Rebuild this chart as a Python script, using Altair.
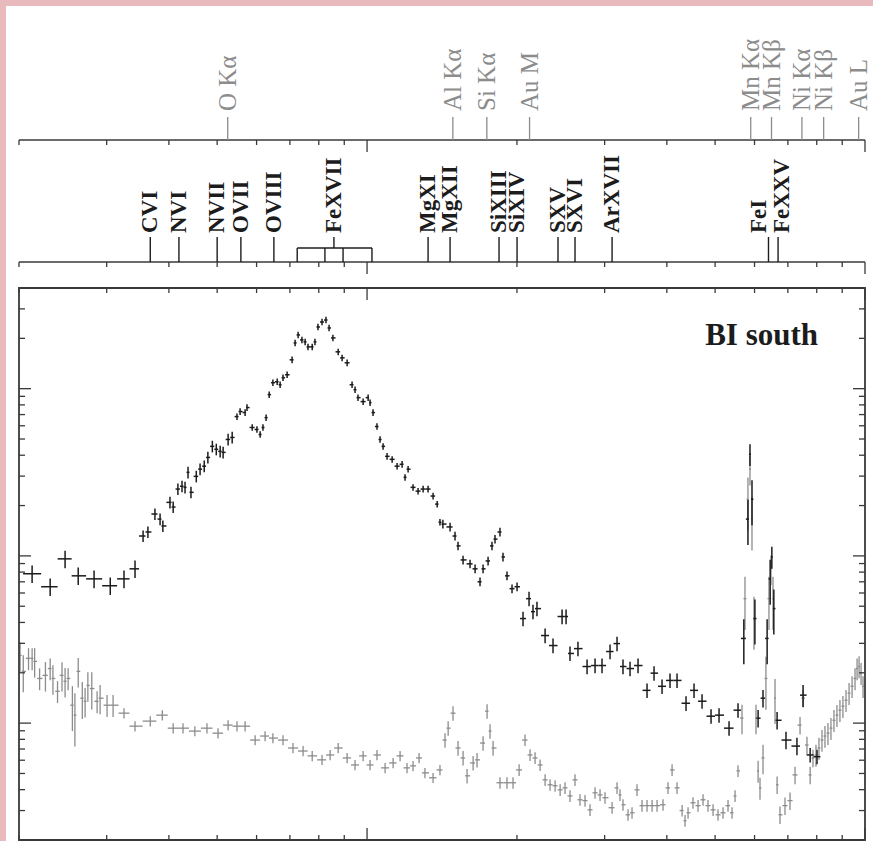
import altair as alt
import numpy as np
import pandas as pd

# ---------------- data ----------------
# source spectrum (black crosses): energy [keV], counts, relative error
src_E = [0.2125, 0.231, 0.2475, 0.263, 0.283, 0.305, 0.325, 0.342,
         0.355, 0.363, 0.375, 0.384, 0.389, 0.402, 0.408, 0.417, 0.425, 0.431,
         0.437, 0.443, 0.454, 0.462, 0.471, 0.479, 0.489, 0.498, 0.507, 0.514,
         0.526, 0.536,
         0.548, 0.556, 0.569, 0.574, 0.588, 0.601, 0.610, 0.618, 0.627, 0.636,
         0.647, 0.660, 0.669, 0.678, 0.691, 0.707, 0.717, 0.727, 0.740, 0.751,
         0.761, 0.776, 0.786, 0.797, 0.812, 0.827, 0.839, 0.854, 0.875, 0.891,
         0.912, 0.933, 0.946, 0.959, 0.982, 1.005, 1.014, 1.028, 1.047, 1.062,
         1.077, 1.097, 1.123, 1.149, 1.176, 1.192, 1.209, 1.237, 1.266, 1.296,
         1.326, 1.357, 1.383, 1.401, 1.420, 1.468, 1.502, 1.523, 1.559, 1.610,
         1.648, 1.686, 1.710, 1.750, 1.782, 1.807, 1.849, 1.875, 1.910, 1.955,
         2.001, 2.057, 2.115, 2.154, 2.194, 2.278, 2.363, 2.464, 2.510, 2.556,
         2.652, 2.766, 2.870, 2.964, 3.076, 3.177, 3.266, 3.374, 3.501, 3.650,
         3.770, 3.912, 4.059, 4.193, 4.371, 4.536, 4.707, 4.907, 5.092, 5.333,
         5.559, 5.71, 5.82, 5.875, 5.93, 6.01, 6.10, 6.24, 6.36, 6.45,
         6.50, 6.56, 6.66, 6.94, 7.30, 7.51, 7.76, 8.01]
src_V = [0.0782, 0.0654, 0.096, 0.076, 0.0729, 0.0663, 0.0729, 0.0837,
         0.1315, 0.139, 0.178, 0.166, 0.151, 0.209, 0.196, 0.251, 0.261, 0.257,
         0.316, 0.240, 0.299, 0.330, 0.344, 0.388, 0.452, 0.434, 0.422, 0.416,
         0.497, 0.511,
         0.681, 0.730, 0.720, 0.771, 0.586, 0.570, 0.532, 0.586, 0.671, 0.921,
         1.086, 1.10, 1.056, 1.163, 1.211, 1.488, 1.878, 2.096, 1.957, 1.905,
         1.778, 1.778, 1.905, 2.339, 2.505, 2.574, 2.307, 2.012, 1.661, 1.529,
         1.428, 1.056, 0.986, 0.884, 0.837, 0.884, 0.825, 0.720, 0.594, 0.497,
         0.452, 0.394, 0.378, 0.344, 0.353, 0.295, 0.330, 0.257, 0.244, 0.251,
         0.251, 0.228, 0.204, 0.159, 0.155, 0.149, 0.1315, 0.1148, 0.0946, 0.0896,
         0.0837, 0.070, 0.0837, 0.0933, 0.1148, 0.126, 0.139, 0.0986, 0.076, 0.0637,
         0.0654, 0.0422, 0.0555, 0.0464, 0.0484, 0.0334, 0.0291, 0.0434, 0.0434, 0.0261,
         0.0279, 0.0218, 0.0221, 0.0221, 0.0268, 0.0299, 0.0218, 0.0212, 0.0221, 0.0157,
         0.0199, 0.0166, 0.0180, 0.0180, 0.01315, 0.0157, 0.01352, 0.0110, 0.01116, 0.00933,
         0.01195, 0.0321, 0.166, 0.405, 0.218, 0.0422, 0.0107, 0.0141, 0.0321, 0.0729,
         0.0986, 0.0484, 0.0104, 0.00792, 0.00729, 0.0147, 0.00645, 0.0063]
src_err = [0.12, 0.12, 0.12, 0.12, 0.12, 0.12, 0.12, 0.12,
           0.08, 0.08, 0.08, 0.08, 0.08, 0.08, 0.08, 0.08, 0.08, 0.08, 0.08,
           0.08, 0.08, 0.08, 0.08, 0.08, 0.08, 0.08, 0.08, 0.08, 0.08, 0.08,
           0.045, 0.045, 0.045, 0.045, 0.045, 0.045, 0.045, 0.045, 0.045, 0.045,
           0.045, 0.045, 0.045, 0.045, 0.045, 0.045, 0.045, 0.045, 0.045, 0.045,
           0.045, 0.045, 0.045, 0.045, 0.045, 0.045, 0.045, 0.045, 0.045, 0.045,
           0.045, 0.045, 0.045, 0.045, 0.045, 0.045, 0.045, 0.045, 0.045, 0.045,
           0.045, 0.045, 0.045, 0.045, 0.045, 0.045, 0.045, 0.045, 0.045, 0.045,
           0.045, 0.045, 0.045, 0.045,
           0.06, 0.06, 0.06, 0.06, 0.06, 0.06, 0.06, 0.06, 0.06, 0.06,
           0.06, 0.06, 0.06, 0.06, 0.06, 0.06, 0.06,
           0.10, 0.10, 0.10, 0.10, 0.10, 0.10, 0.10, 0.10, 0.10, 0.10,
           0.10, 0.10, 0.10, 0.10, 0.10, 0.10, 0.10, 0.10, 0.10, 0.10,
           0.10, 0.10, 0.10, 0.10, 0.10, 0.10, 0.10, 0.10, 0.10, 0.10,
           0.3, 0.3, 0.15, 0.3, 0.3, 0.12, 0.12, 0.3, 0.3, 0.15,
           0.3, 0.12, 0.12, 0.12, 0.15, 0.1, 0.1]

# background spectrum (gray crosses)
bgd_E = [0.201, 0.204, 0.209, 0.2125, 0.215, 0.220, 0.226, 0.231, 0.234, 0.239,
         0.244, 0.2475, 0.251, 0.256, 0.259, 0.263, 0.268, 0.2715, 0.275, 0.280,
         0.287, 0.291, 0.3005, 0.309, 0.325, 0.342, 0.367, 0.388, 0.408, 0.427,
         0.451, 0.477, 0.502, 0.526, 0.548, 0.569, 0.596, 0.624, 0.647, 0.678,
         0.710, 0.744, 0.776, 0.812, 0.843, 0.875, 0.912, 0.946, 0.982, 1.014,
         1.047, 1.087, 1.128, 1.165, 1.203, 1.237, 1.272, 1.307, 1.357, 1.401,
         1.434, 1.455, 1.488, 1.523, 1.559, 1.588, 1.633, 1.663, 1.710, 1.742,
         1.766, 1.791, 1.849, 1.910, 1.964, 2.020, 2.076, 2.125, 2.175, 2.226,
         2.278, 2.331, 2.386, 2.442, 2.498, 2.556, 2.616, 2.677, 2.740, 2.804,
         2.870, 2.937, 3.005, 3.105, 3.177, 3.221, 3.266, 3.343, 3.405, 3.485,
         3.566, 3.650, 3.736, 3.823, 3.930, 4.022, 4.098, 4.193, 4.292, 4.351,
         4.412, 4.514, 4.620, 4.729, 4.839, 4.953, 5.068, 5.187, 5.308, 5.407,
         5.483, 5.559, 5.662, 5.741, 5.82, 5.875, 5.93, 5.985, 6.041, 6.10,
         6.154, 6.24, 6.325, 6.414, 6.474, 6.535, 6.596, 6.66, 6.750, 6.908,
         7.07, 7.236, 7.405, 7.51, 7.646, 7.76, 7.862, 7.972, 8.083, 8.196,
         8.31, 8.426, 8.544, 8.663, 8.784, 8.906, 9.03, 9.16, 9.29, 9.42,
         9.55, 9.64, 9.73, 9.82, 9.91]
bgd_V = [0.0254, 0.0204, 0.0244, 0.0244, 0.0234, 0.0185, 0.0193, 0.0212, 0.0185, 0.0155,
         0.0193, 0.0178, 0.0185, 0.0128, 0.01116, 0.0204, 0.0141, 0.0135, 0.0168, 0.0161,
         0.0135, 0.0141, 0.0128, 0.0128, 0.01147, 0.00959, 0.01028, 0.01116, 0.00933, 0.00933,
         0.00896, 0.00933, 0.00871, 0.00973, 0.00959, 0.00959, 0.00792, 0.00837, 0.00814, 0.00792,
         0.0071, 0.00681, 0.00637, 0.00603, 0.00645, 0.0071, 0.00619, 0.00562, 0.00637, 0.00562,
         0.00645, 0.0054, 0.00578, 0.00637, 0.0054, 0.00555, 0.00619, 0.00504, 0.00471, 0.00525,
         0.00792, 0.00933, 0.01147, 0.0071, 0.00619, 0.00484, 0.00578, 0.00603, 0.0076, 0.01178,
         0.00896, 0.0071, 0.0044, 0.0044, 0.0044, 0.00525, 0.00792, 0.00645, 0.00619, 0.00562,
         0.00458, 0.00428, 0.00422, 0.00399, 0.0041, 0.00367, 0.00458, 0.00348, 0.00344, 0.00303,
         0.00383, 0.00372, 0.00358, 0.00312, 0.0041, 0.00372, 0.00325, 0.00283, 0.00291, 0.00399,
         0.00321, 0.00321, 0.00321, 0.00321, 0.00325, 0.0041, 0.00525, 0.0041, 0.00300, 0.00261,
         0.00291, 0.00334, 0.00321, 0.00348, 0.00321, 0.00303, 0.00283, 0.00291, 0.00321, 0.00291,
         0.00367, 0.00518, 0.01072, 0.0555, 0.218, 0.330, 0.166, 0.0422, 0.01072, 0.00518,
         0.0041, 0.00619, 0.0185, 0.0555, 0.0837, 0.0555, 0.0141, 0.00428, 0.00283, 0.00321,
         0.00344, 0.0049, 0.00973, 0.0141, 0.0074, 0.0049, 0.00619, 0.00645, 0.0071, 0.00792,
         0.00837, 0.00871, 0.00933, 0.0104, 0.01116, 0.01195, 0.01262, 0.01371, 0.0151, 0.0166,
         0.0185, 0.0212, 0.0218, 0.0199, 0.0166]
bgd_err = [0.2, 0.25, 0.15, 0.15, 0.2, 0.15, 0.2, 0.15, 0.2, 0.15,
           0.2, 0.2, 0.15, 0.3, 0.35, 0.2, 0.25, 0.2, 0.2, 0.25,
           0.15, 0.2, 0.15, 0.15,
           0.07, 0.07, 0.07, 0.07, 0.07, 0.07, 0.07, 0.07, 0.07, 0.07,
           0.07, 0.07, 0.07, 0.07, 0.07, 0.07, 0.07, 0.07, 0.07, 0.07,
           0.07, 0.07, 0.07, 0.07, 0.07, 0.07, 0.07, 0.07, 0.07, 0.07,
           0.07, 0.07, 0.07, 0.07, 0.07, 0.07,
           0.1, 0.1, 0.1, 0.1, 0.1, 0.1, 0.1, 0.1, 0.1, 0.1, 0.1, 0.1,
           0.08, 0.08, 0.08, 0.08, 0.08, 0.08, 0.08, 0.08, 0.08, 0.08,
           0.08, 0.08, 0.08, 0.08, 0.08, 0.08, 0.08, 0.08, 0.08, 0.08,
           0.08, 0.08, 0.08, 0.08, 0.08, 0.08, 0.08, 0.08, 0.08, 0.08,
           0.08, 0.08, 0.08, 0.08, 0.08, 0.08, 0.08, 0.08, 0.08, 0.08,
           0.08, 0.08, 0.08, 0.08, 0.08, 0.08, 0.08, 0.08, 0.08, 0.08,
           0.2, 0.35, 0.35, 0.2, 0.35, 0.35, 0.2, 0.15, 0.15, 0.2,
           0.35, 0.35, 0.2, 0.35, 0.3,
           0.12, 0.12, 0.12, 0.12, 0.12, 0.12, 0.12, 0.12, 0.12, 0.12,
           0.15, 0.15, 0.15, 0.15, 0.15, 0.15, 0.15, 0.15, 0.15,
           0.15, 0.15, 0.15, 0.15, 0.15, 0.15, 0.15, 0.15, 0.15]

# instrumental lines (upper strip) and emission lines (lower strip)
inst_E = [0.525, 1.487, 1.740, 2.12, 5.895, 6.49, 7.47, 8.26, 9.71]
inst_lab = ["O Kα", "Al Kα", "Si Kα", "Au M", "Mn Kα", "Mn Kβ", "Ni Kα", "Ni Kβ", "Au L"]
emis_E = [0.367, 0.419, 0.500, 0.558, 0.650, 0.858, 1.326, 1.468, 1.841, 2.001,
          2.418, 2.616, 3.105, 6.40, 6.69]
emis_text_E = [0.367, 0.419, 0.500, 0.558, 0.650, 0.858, 1.326, 1.468, 1.841, 2.001,
               2.418, 2.616, 3.105, 6.12, 6.81]
emis_lab = ["CVI", "NVI", "NVII", "OVII", "OVIII", "FeXVII", "MgXI", "MgXII", "SiXIII",
            "SiXIV", "SXV", "SXVI", "ArXVII", "FeI", "FeXXV"]
fe17_edges = [0.724, 0.823, 0.895, 1.023]

x_minor = [0.2, 0.3, 0.4, 0.5, 0.6, 0.7, 0.8, 0.9, 2, 3, 4, 5, 6, 7, 8, 9]
x_major = [1, 10]
y_minor = [0.002, 0.003, 0.004, 0.005, 0.006, 0.007, 0.008, 0.009,
           0.02, 0.03, 0.04, 0.05, 0.06, 0.07, 0.08, 0.09,
           0.2, 0.3, 0.4, 0.5, 0.6, 0.7, 0.8, 0.9, 2, 3, 4]
y_major = [0.01, 0.1, 1]
X_DOM = [0.2, 10]
Y_DOM = [0.002, 4]

# ---------------- helpers ----------------
W, H = 846, 552
PAD = {"left": 19, "top": 288, "right": 8, "bottom": 1}
PINK = "#e8b9bd"
AX = "#3a3a3a"
BLACK = "#1c1c1c"
GRAY = "#8c8c8c"
FONT = "Liberation Serif"

xs = alt.Scale(type="log", domain=X_DOM, nice=False)
ys = alt.Scale(type="log", domain=Y_DOM, nice=False)


def spectrum(E, V, err):
    E = np.asarray(E, float)
    V = np.asarray(V, float)
    err = np.asarray(err, float)
    mids = np.sqrt(E[:-1] * E[1:])
    lo = np.concatenate([[E[0] ** 2 / mids[0]], mids])
    hi = np.concatenate([mids, [E[-1] ** 2 / mids[-1]]])
    return pd.DataFrame({"E": E, "lo": lo, "hi": hi, "V": V,
                         "vlo": V * (1 - err), "vhi": V * (1 + err)})


def X(f):
    return alt.X(f, type="quantitative", scale=xs, axis=None)


def Y(f):
    return alt.Y(f, type="quantitative", scale=ys, axis=None)


src = spectrum(src_E, src_V, src_err)
bgd = spectrum(bgd_E, bgd_V, bgd_err)
one = pd.DataFrame({"k": [0]})

layers = []

# pink page border along the top and left edges
layers.append(alt.Chart(one).mark_rect(fill=PINK).encode(
    x=alt.value(-19), x2=alt.value(W + 8), y=alt.value(-288), y2=alt.value(-282)))
layers.append(alt.Chart(one).mark_rect(fill=PINK).encode(
    x=alt.value(-19), x2=alt.value(-13), y=alt.value(-288), y2=alt.value(H + 1)))

# spectra: background (gray) then source (black)
for df, col, sw in [(bgd, GRAY, 1.3), (src, BLACK, 1.5)]:
    layers.append(alt.Chart(df).mark_rule(color=col, strokeWidth=sw, clip=True).encode(
        x=X("lo"), x2="hi", y=Y("V")))
    layers.append(alt.Chart(df).mark_rule(color=col, strokeWidth=sw, clip=True).encode(
        x=X("E"), y=Y("vlo"), y2="vhi"))

# frame
frame_df = pd.DataFrame({"x0": [X_DOM[0]], "x1": [X_DOM[1]], "y0": [Y_DOM[0]], "y1": [Y_DOM[1]]})
layers.append(alt.Chart(frame_df).mark_rect(fillOpacity=0, stroke=AX, strokeWidth=1.8).encode(
    x=X("x0"), x2="x1", y=Y("y0"), y2="y1"))

# x ticks on main top/bottom and the two strip axes
xmin_df = pd.DataFrame({"t": x_minor})
xmaj_df = pd.DataFrame({"t": x_major})
for y0, d in [(H, -1), (0, 1), (-148, 1), (-26, 1)]:
    for df, ln in [(xmin_df, 5), (xmaj_df, 12)]:
        layers.append(alt.Chart(df).mark_rule(color=AX, strokeWidth=1.3).encode(
            x=X("t"), y=alt.value(y0), y2=alt.value(y0 + d * ln)))

# y ticks left/right
ymin_df = pd.DataFrame({"t": y_minor})
ymaj_df = pd.DataFrame({"t": y_major})
for x0, d in [(0, 1), (W, -1)]:
    for df, ln in [(ymin_df, 6), (ymaj_df, 12)]:
        layers.append(alt.Chart(df).mark_rule(color=AX, strokeWidth=1.3).encode(
            y=Y("t"), x=alt.value(x0), x2=alt.value(x0 + d * ln)))

# strip axis lines
dom_df = pd.DataFrame({"a": [X_DOM[0]], "b": [X_DOM[1]]})
for y0 in [-148, -26]:
    layers.append(alt.Chart(dom_df).mark_rule(color=AX, strokeWidth=1.4).encode(
        x=X("a"), x2="b", y=alt.value(y0)))

# upper strip: instrumental lines (gray)
inst_df = pd.DataFrame({"E": inst_E, "lab": inst_lab})
layers.append(alt.Chart(inst_df).mark_rule(color=GRAY, strokeWidth=1.3).encode(
    x=X("E"), y=alt.value(-171), y2=alt.value(-148)))
layers.append(alt.Chart(inst_df).mark_text(
    angle=270, align="left", baseline="middle", font=FONT, fontSize=25,
    color=GRAY).encode(x=X("E"), y=alt.value(-177), text="lab:N"))

# lower strip: emission lines (black, bold)
emis_df = pd.DataFrame({"E": emis_E, "tE": emis_text_E, "lab": emis_lab})
emis_plain = emis_df[emis_df["lab"] != "FeXVII"]
layers.append(alt.Chart(emis_plain).mark_rule(color=BLACK, strokeWidth=1.4).encode(
    x=X("E"), y=alt.value(-51), y2=alt.value(-26)))
layers.append(alt.Chart(emis_df).mark_text(
    angle=270, align="left", baseline="middle", font=FONT, fontSize=23,
    fontWeight="bold", color=BLACK).encode(x=X("tE"), y=alt.value(-55), text="lab:N"))

# FeXVII bracket
fe_df = pd.DataFrame({"E": fe17_edges})
layers.append(alt.Chart(fe_df).mark_rule(color=BLACK, strokeWidth=1.4).encode(
    x=X("E"), y=alt.value(-40), y2=alt.value(-26)))
fe_span = pd.DataFrame({"a": [fe17_edges[0]], "b": [fe17_edges[-1]]})
layers.append(alt.Chart(fe_span).mark_rule(color=BLACK, strokeWidth=1.4).encode(
    x=X("a"), x2="b", y=alt.value(-40)))
fe_stem = emis_df[emis_df["lab"] == "FeXVII"]
layers.append(alt.Chart(fe_stem).mark_rule(color=BLACK, strokeWidth=1.4).encode(
    x=X("E"), y=alt.value(-51), y2=alt.value(-40)))

# panel label
lab_df = pd.DataFrame({"lab": ["BI south"]})
layers.append(alt.Chart(lab_df).mark_text(
    align="right", baseline="alphabetic", font=FONT, fontSize=31, fontWeight="bold",
    color=BLACK).encode(x=alt.value(799), y=alt.value(57), text="lab:N"))

chart = alt.layer(*layers).properties(
    width=W, height=H,
    autosize=alt.AutoSizeParams(type="none"),
    padding=PAD,
    background="white",
).configure_view(stroke=None)

chart.save("out.html", embed_options={"renderer": "svg", "actions": False})
